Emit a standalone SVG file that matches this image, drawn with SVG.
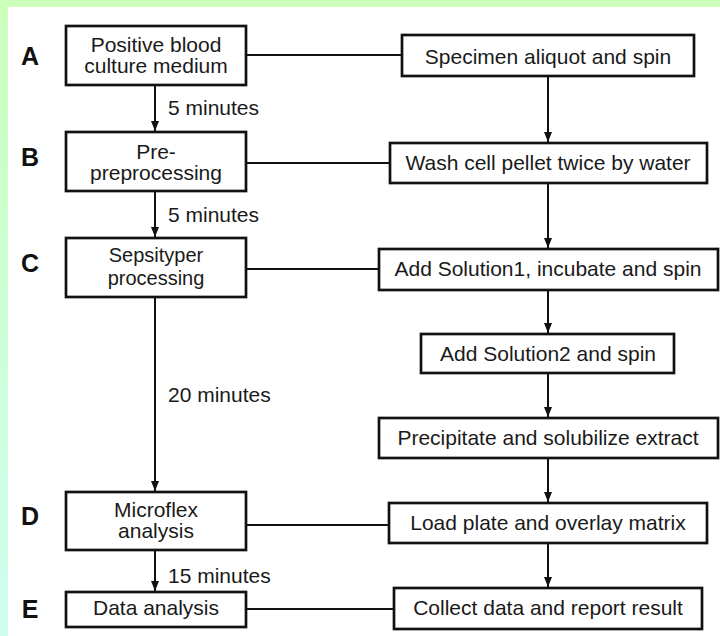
<svg xmlns="http://www.w3.org/2000/svg" width="720" height="636" viewBox="0 0 720 636">
<defs>
<linearGradient id="bg" x1="0" y1="0" x2="0" y2="1">
<stop offset="0" stop-color="#ccffbb"/>
<stop offset="1" stop-color="#ccfff0"/>
</linearGradient>
<marker id="arr" markerUnits="userSpaceOnUse" markerWidth="10" markerHeight="10" viewBox="0 0 10 10" refX="10" refY="5" orient="auto">
<path d="M0,1 L10,5 L0,9 Z" fill="#111"/>
</marker>
<style>
.box{fill:#fff;stroke:#111;stroke-width:2.7}
.t{font-family:"Liberation Sans",Arial,sans-serif;font-size:21px;fill:#1a1a1a;text-anchor:middle}
.ts{font-family:"Liberation Sans",Arial,sans-serif;font-size:20px;fill:#1a1a1a;text-anchor:middle}
.tm{font-family:"Liberation Sans",Arial,sans-serif;font-size:21px;fill:#1a1a1a}
.lab{font-family:"Liberation Sans",Arial,sans-serif;font-size:25px;font-weight:bold;fill:#111;text-anchor:middle}
.c{stroke:#111;stroke-width:2;fill:none}
.ca{stroke:#111;stroke-width:2;fill:none;marker-end:url(#arr)}
</style>
</defs>
<rect x="0" y="0" width="720" height="636" fill="url(#bg)"/>
<rect x="8" y="7" width="712" height="629" fill="#fff"/>

<g id="labels">
<text class="lab" x="30" y="65">A</text>
<text class="lab" x="30" y="166">B</text>
<text class="lab" x="30" y="272">C</text>
<text class="lab" x="30" y="525">D</text>
<text class="lab" x="30" y="618">E</text>
</g>

<g id="connectors">
<line class="ca" x1="155" y1="86" x2="155" y2="131"/>
<line class="ca" x1="155" y1="192" x2="155" y2="237"/>
<line class="ca" x1="155" y1="298" x2="155" y2="491"/>
<line class="ca" x1="155" y1="551" x2="155" y2="591"/>
<line class="c" x1="247" y1="55" x2="401" y2="55"/>
<line class="c" x1="247" y1="163" x2="389" y2="163"/>
<line class="c" x1="247" y1="269" x2="378" y2="269"/>
<line class="c" x1="247" y1="525" x2="388" y2="525"/>
<line class="c" x1="247" y1="609" x2="393" y2="609"/>
<line class="ca" x1="548" y1="77" x2="548" y2="142"/>
<line class="ca" x1="548" y1="184" x2="548" y2="248"/>
<line class="ca" x1="548" y1="291" x2="548" y2="333"/>
<line class="ca" x1="548" y1="374" x2="548" y2="417"/>
<line class="ca" x1="548" y1="459" x2="548" y2="502"/>
<line class="ca" x1="548" y1="544" x2="548" y2="587"/>
<text class="tm" x="168" y="115">5 minutes</text>
<text class="tm" x="168" y="222">5 minutes</text>
<text class="tm" x="168" y="402">20 minutes</text>
<text class="tm" x="168" y="583">15 minutes</text>
</g>

<g id="nodeA">
<rect class="box" x="66" y="26" width="180" height="59"/>
<text class="t" x="156" y="52">Positive blood</text>
<text class="t" x="156" y="73">culture medium</text>
</g>
<g id="nodeB">
<rect class="box" x="66" y="132" width="180" height="59"/>
<text class="t" x="156" y="159">Pre-</text>
<text class="t" x="156" y="180">preprocessing</text>
</g>
<g id="nodeC">
<rect class="box" x="66" y="238" width="180" height="59"/>
<text class="ts" x="156" y="262">Sepsityper</text>
<text class="ts" x="156" y="285">processing</text>
</g>
<g id="nodeD">
<rect class="box" x="66" y="492" width="180" height="58"/>
<text class="t" x="156" y="517">Microflex</text>
<text class="t" x="156" y="538">analysis</text>
</g>
<g id="nodeE">
<rect class="box" x="66" y="592" width="180" height="35"/>
<text class="t" x="156" y="615">Data analysis</text>
</g>

<g id="specimen">
<rect class="box" x="402" y="35" width="292" height="41"/>
<text class="t" x="548" y="64">Specimen aliquot and spin</text>
</g>
<g id="wash">
<rect class="box" x="390" y="143" width="317" height="40"/>
<text class="t" x="548" y="170">Wash cell pellet twice by water</text>
</g>
<g id="sol1">
<rect class="box" x="379" y="249" width="339" height="41"/>
<text class="t" x="548" y="276">Add Solution1, incubate and spin</text>
</g>
<g id="sol2">
<rect class="box" x="421" y="334" width="253" height="39"/>
<text class="t" x="548" y="361">Add Solution2 and spin</text>
</g>
<g id="precip">
<rect class="box" x="379" y="418" width="339" height="40"/>
<text class="t" x="548" y="445">Precipitate and solubilize extract</text>
</g>
<g id="load">
<rect class="box" x="389" y="503" width="318" height="40"/>
<text class="t" x="548" y="530">Load plate and overlay matrix</text>
</g>
<g id="collect">
<rect class="box" x="394" y="588" width="308" height="41"/>
<text class="t" x="548" y="615">Collect data and report result</text>
</g>
</svg>
